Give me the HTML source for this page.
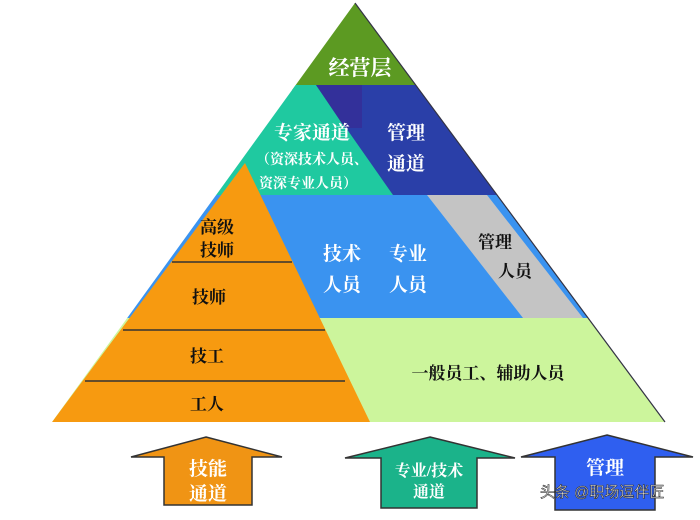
<!DOCTYPE html>
<html><head><meta charset="utf-8"><style>
html,body{margin:0;padding:0;background:#fff;}
svg text{font-family:"Liberation Serif","Noto Serif CJK SC",serif;font-weight:bold;}
</style></head><body>
<svg width="700" height="515" viewBox="0 0 700 515" xmlns="http://www.w3.org/2000/svg">
<defs><clipPath id="tri"><polygon points="355,3 52,422 665,422"/></clipPath></defs>
<g clip-path="url(#tri)">
<rect x="0" y="0" width="700" height="90" fill="#5c9a22"/>
<polygon points="300,72 316,85 316,85 0,85 0,195 700,195 700,85 316,85" fill="#1fc9a0"/>
<rect x="290" y="85" width="30" height="0" fill="#1fc9a0"/>
<polygon points="316,85 700,85 700,195 393,195" fill="#2a3fa8"/>
<polygon points="316,85 362,85 362,128 345,128" fill="#33309a"/>
<rect x="0" y="195" width="700" height="123" fill="#3a93f0"/>
<polygon points="427,195 487,195 583,318 523,318" fill="#c4c4c4"/>
<rect x="0" y="318" width="700" height="104" fill="#ccf59c"/>
<polygon points="245,163 52,422 370,422" fill="#f79a10"/>
<line x1="172" y1="262" x2="292" y2="262" stroke="#333" stroke-width="1.5"/>
<line x1="123" y1="330" x2="325" y2="330" stroke="#333" stroke-width="1.5"/>
<line x1="85" y1="381" x2="345" y2="381" stroke="#333" stroke-width="1.5"/>
</g>
<line x1="355" y1="3" x2="665" y2="422" stroke="#334" stroke-width="1.2"/>
<g fill="#fff" font-size="19">
<text x="360" y="75" text-anchor="middle" font-size="21">经营层</text>
<text x="312" y="139" text-anchor="middle">专家通道</text>
<text x="406" y="139" text-anchor="middle">管理</text>
<text x="406" y="170" text-anchor="middle">通道</text>
<text x="312" y="164" text-anchor="middle" font-size="14">（资深技术人员、</text>
<text x="308" y="188" text-anchor="middle" font-size="14">资深专业人员）</text>
<text x="342" y="260" text-anchor="middle">技术</text>
<text x="408" y="260" text-anchor="middle">专业</text>
<text x="342" y="291" text-anchor="middle">人员</text>
<text x="408" y="291" text-anchor="middle">人员</text>
</g>
<g fill="#111" font-size="17">
<text x="495" y="248" text-anchor="middle">管理</text>
<text x="515" y="277" text-anchor="middle">人员</text>
<text x="217" y="233" text-anchor="middle">高级</text>
<text x="217" y="256" text-anchor="middle">技师</text>
<text x="209" y="303" text-anchor="middle">技师</text>
<text x="207" y="362" text-anchor="middle">技工</text>
<text x="207" y="410" text-anchor="middle">工人</text>
<text x="488" y="379" text-anchor="middle">一般员工、辅助人员</text>
</g>
<polygon points="206,437 282,457 252,457 252,505 164,505 164,457 131,457" fill="#f09414" stroke="#333" stroke-width="1.5"/>
<polygon points="430,437 515,458 477,458 477,508 381,508 381,458 345,458" fill="#1bb38a" stroke="#333" stroke-width="1.5"/>
<polygon points="607,435 693,457 655,457 655,510 555,510 555,457 521,457" fill="#2f5ff0" stroke="#333" stroke-width="1.5"/>
<g fill="#fff" font-size="19">
<text x="208" y="475" text-anchor="middle">技能</text>
<text x="208" y="500" text-anchor="middle">通道</text>
<text x="429" y="476" text-anchor="middle" font-size="16">专业/技术</text>
<text x="429" y="497" text-anchor="middle" font-size="16">通道</text>
<text x="605" y="474" text-anchor="middle">管理</text>
</g>
<text x="540" y="497" font-size="15" fill="#fff" stroke="#333" stroke-width="0.6" style="font-family:'Liberation Sans','Noto Sans CJK SC',sans-serif;font-weight:normal">头条 @职场逗伴匠</text>
</svg>
</body></html>
